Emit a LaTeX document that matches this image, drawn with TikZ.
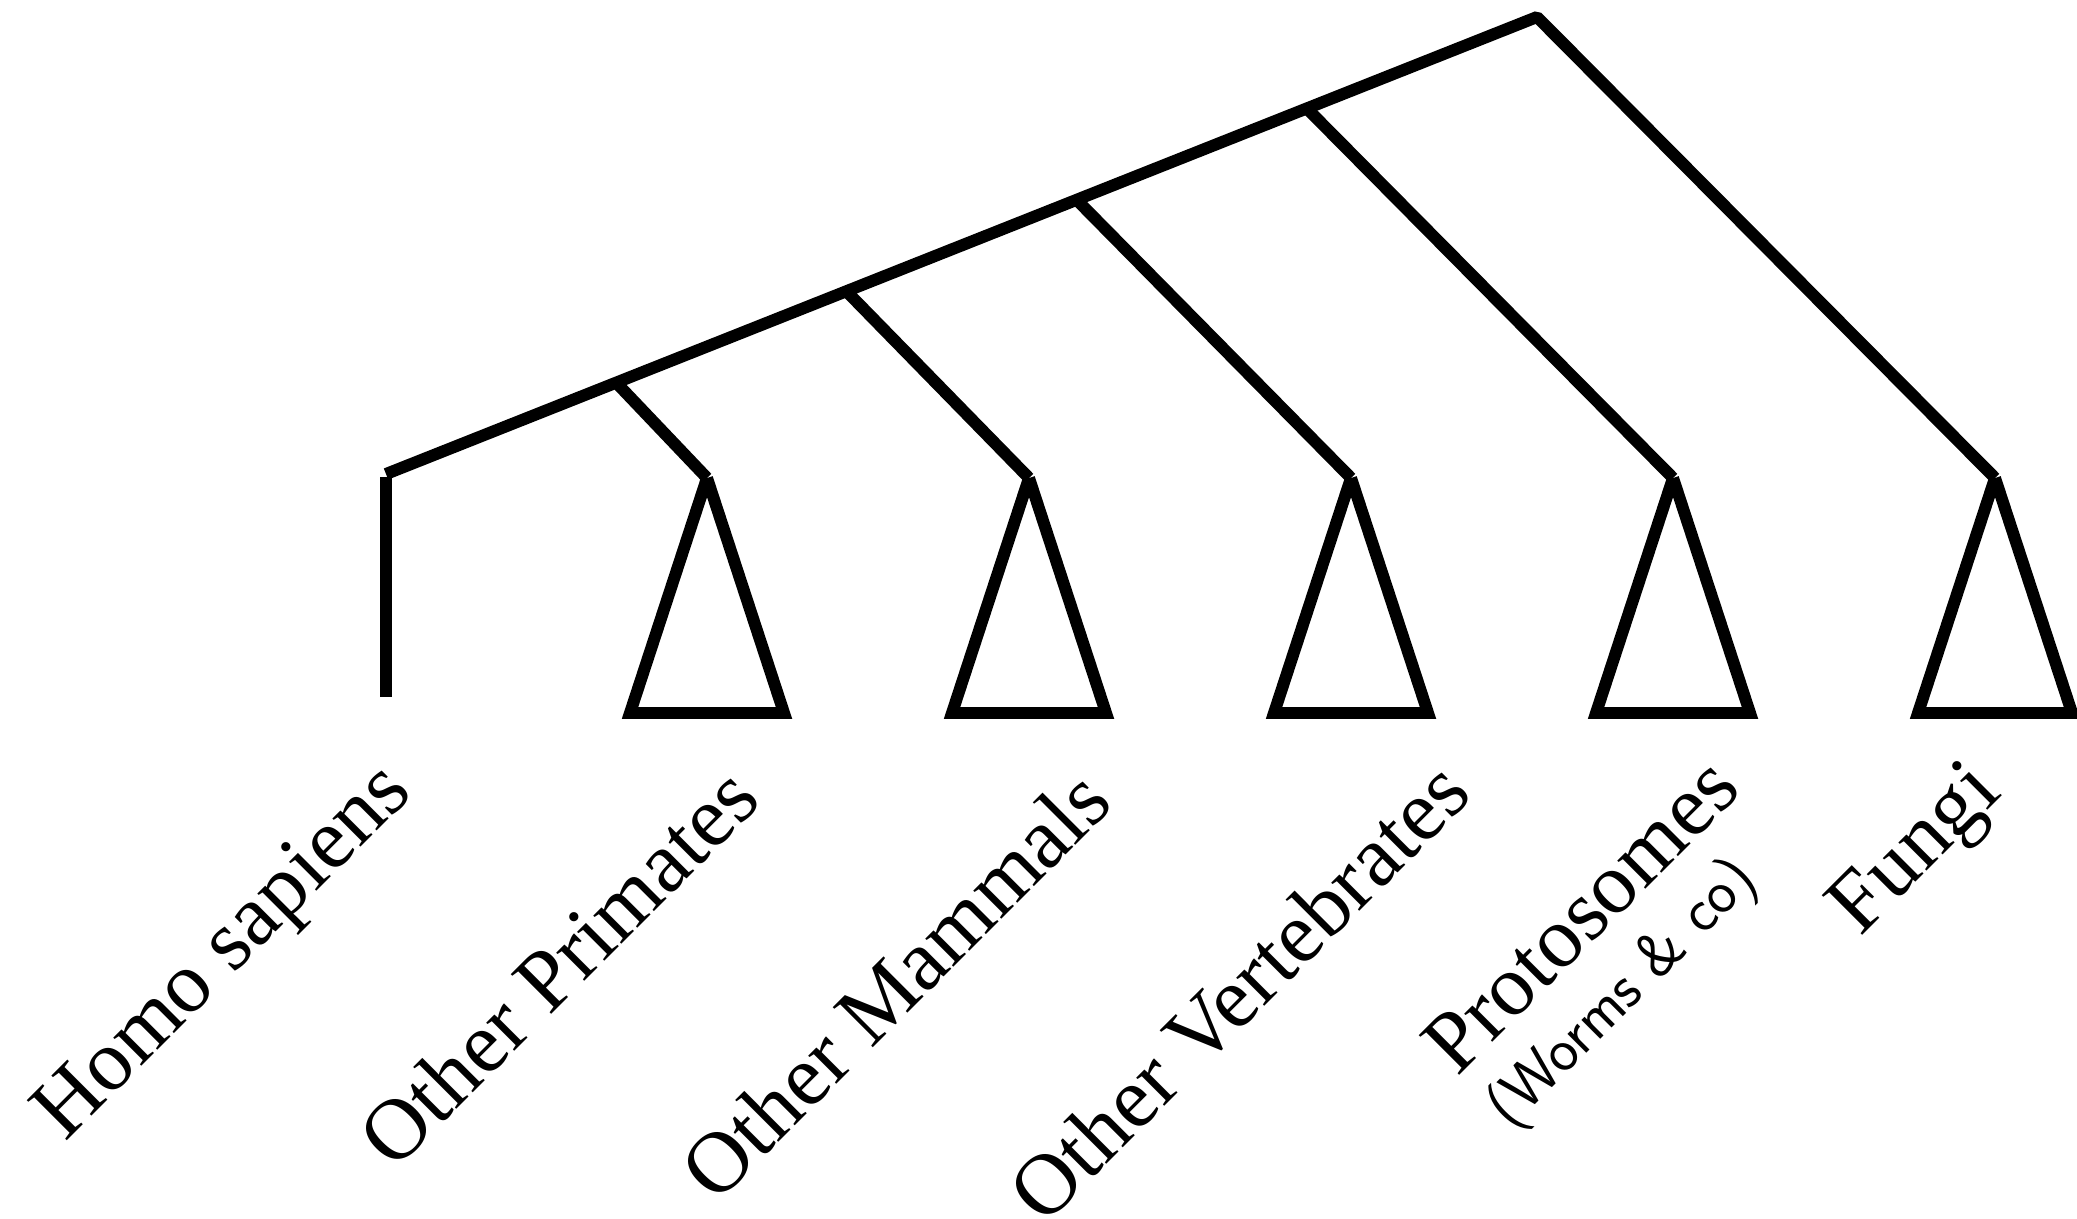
\documentclass[tikz,border=0pt]{standalone}
\usepackage{fontspec}
\setmainfont{Liberation Serif}
\usetikzlibrary{calc}
\begin{document}
\begin{tikzpicture}[x=0.01cm,y=-0.01cm,
  treeline/.style={line width=3.4pt,line cap=butt},
  clade/.style={line width=3.4pt,line cap=butt,line join=miter},
  taxon/.style={rotate=45,anchor=base west,inner sep=0pt,font=\fontsize{24.6}{30}\selectfont},
  subtaxon/.style={rotate=45,anchor=base west,inner sep=0pt,font=\sffamily\fontsize{17.5}{21}\selectfont}]
\useasboundingbox (0,0) rectangle (2077,1218);
% backbone coordinates
\coordinate (hs) at (386,474);
\coordinate (root) at (1537,17);
\coordinate (b1) at ($(hs)!0.2!(root)$);
\coordinate (b2) at ($(hs)!0.4!(root)$);
\coordinate (b3) at ($(hs)!0.6!(root)$);
\coordinate (b4) at ($(hs)!0.8!(root)$);
% leaves
\coordinate (hstop) at (386,477);
\coordinate (hsbot) at (386,697);
\foreach \i/\x in {1/707,2/1029,3/1351,4/1673,5/1995}{
  \coordinate (a\i) at (\x,478);
  \coordinate (l\i) at (\x-77,713);
  \coordinate (r\i) at (\x+77,713);
}
% tree
\draw[treeline,line join=bevel] (hs) -- (root) -- (a5);
\draw[treeline] (hstop) -- (hsbot);
\draw[treeline] (b1) -- (a1);
\draw[treeline] (b2) -- (a2);
\draw[treeline] (b3) -- (a3);
\draw[treeline] (b4) -- (a4);
\foreach \i in {1,...,5}{
  \draw[clade] (a\i) -- (l\i) -- (r\i) -- (a\i);
}
% labels
\node[taxon] (t0) at (65,1143) {Homo sapiens};
\node[taxon] (t1) at (394,1172) {Other Primates};
\node[taxon] (t2) at (716,1205) {Other Mammals};
\node[taxon] (t3) at (1044,1227) {Other Vertebrates};
\node[taxon] (t4) at (1457,1078) {Protosomes};
\node[subtaxon] (t4b) at (1510,1130) {(Worms \& co)};
\node[taxon] (t5) at (1860,938) {Fungi};
\end{tikzpicture}
\end{document}
